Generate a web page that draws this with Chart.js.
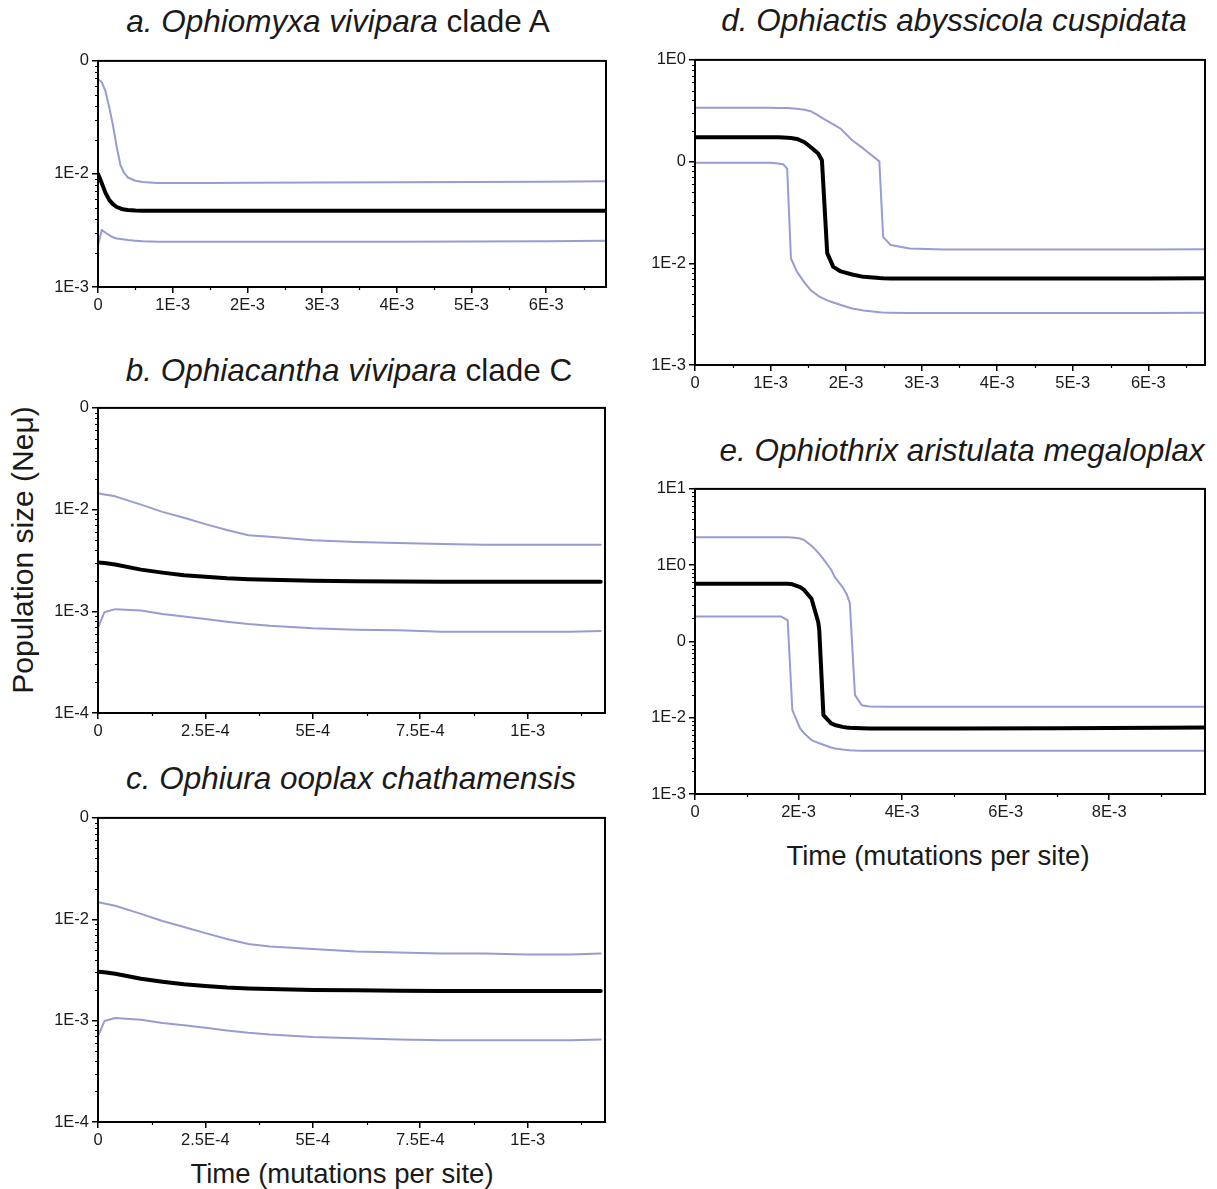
<!DOCTYPE html>
<html>
<head>
<meta charset="utf-8">
<script src="https://cdn.jsdelivr.net/npm/chart.js@4.4.1/dist/chart.umd.min.js"></script>
<style>
  body { margin: 0; background: #fff; width: 1217px; height: 1189px; position: relative; overflow: hidden;
         font-family: 'Liberation Sans', Arial, sans-serif; color: #1a1a1a; }
  .panel { position: absolute; }
  .title { position: absolute; font-size: 31.5px; line-height: 31.5px; white-space: nowrap; transform: translateX(-50%); }
  .xtitle { position: absolute; font-size: 27.5px; line-height: 27.5px; white-space: nowrap; transform: translateX(-50%); }
  .ytitle { position: absolute; font-size: 30px; line-height: 30px; white-space: nowrap; left: 23px; top: 550px;
            transform: translate(-50%, -50%) rotate(-90deg); }
</style>
</head>
<body>
<div class="title" style="left:338px; top:6px"><i>a. Ophiomyxa vivipara</i> clade A</div>
<div class="title" style="left:349px; top:355px"><i>b. Ophiacantha vivipara</i> clade C</div>
<div class="title" style="left:351px; top:763px"><i>c. Ophiura ooplax chathamensis</i></div>
<div class="title" style="left:954px; top:5px"><i>d. Ophiactis abyssicola cuspidata</i></div>
<div class="title" style="left:962px; top:435px"><i>e. Ophiothrix aristulata megaloplax</i></div>
<div class="xtitle" style="left:342px; top:1160px">Time (mutations per site)</div>
<div class="xtitle" style="left:938px; top:842px">Time (mutations per site)</div>
<div class="ytitle">Population size (Neμ)</div>

<div class="panel" id="boxA"><canvas id="chartA"></canvas></div>
<div class="panel" id="boxB"><canvas id="chartB"></canvas></div>
<div class="panel" id="boxC"><canvas id="chartC"></canvas></div>
<div class="panel" id="boxD"><canvas id="chartD"></canvas></div>
<div class="panel" id="boxE"><canvas id="chartE"></canvas></div>

<script>
// a. Ophiomyxa vivipara clade A
const timeA = [0, 0.00005, 0.0001, 0.00015, 0.0002, 0.00025, 0.0003, 0.00035, 0.0004, 0.0005,
  0.0006, 0.0008, 0.001, 0.0015, 0.002, 0.003, 0.004, 0.005, 0.006, 0.0068];
const upperA = [0.069, 0.065, 0.054, 0.039, 0.027, 0.0174, 0.0120, 0.0102, 0.0093, 0.0087,
  0.0085, 0.0083, 0.0083, 0.0083, 0.00835, 0.0084, 0.00845, 0.0085, 0.00855, 0.0086];
const medianA = [0.0100, 0.0083, 0.0068, 0.0059, 0.0054, 0.0051, 0.00495, 0.00484, 0.00479, 0.00474,
  0.00472, 0.00472, 0.00472, 0.00472, 0.00472, 0.00472, 0.00472, 0.00472, 0.00472, 0.00472];
const lowerA = [0.00234, 0.0032, 0.00302, 0.00288, 0.00275, 0.00269, 0.00266, 0.00263, 0.0026, 0.00257,
  0.00254, 0.00251, 0.00251, 0.00251, 0.00251, 0.00251, 0.00251, 0.00252, 0.00254, 0.00257];

// b. Ophiacantha vivipara clade C
const timeB = [0, 0.000015, 0.00004, 0.0001, 0.00015, 0.0002, 0.00025, 0.0003, 0.00035, 0.0004,
  0.0005, 0.0006, 0.0007, 0.0008, 0.0009, 0.001, 0.0011, 0.00117];
const upperB = [0.0145, 0.0141, 0.0135, 0.0112, 0.0095, 0.0083, 0.0072, 0.0063, 0.0056, 0.0054,
  0.0050, 0.0048, 0.0047, 0.0046, 0.0045, 0.0045, 0.0045, 0.0045];
const medianB = [0.00302, 0.00299, 0.00288, 0.00257, 0.0024, 0.00226, 0.00219, 0.00211, 0.00207, 0.00204,
  0.0020, 0.00197, 0.00196, 0.00195, 0.00195, 0.00195, 0.00195, 0.00195];
const lowerB = [0.00069, 0.00098, 0.00105, 0.00102, 0.00094, 0.00089, 0.00084, 0.00079, 0.00075, 0.00072,
  0.00068, 0.00066, 0.00065, 0.00063, 0.00063, 0.00063, 0.00063, 0.00064];

// c. Ophiura ooplax chathamensis
const timeC = [0, 0.000015, 0.00004, 0.0001, 0.00015, 0.0002, 0.00025, 0.0003, 0.00035, 0.0004,
  0.0005, 0.0006, 0.0007, 0.0008, 0.0009, 0.001, 0.0011, 0.00117];
const upperC = [0.0147, 0.0143, 0.0136, 0.0113, 0.0096, 0.0084, 0.0073, 0.0064, 0.0057, 0.0054,
  0.0051, 0.0048, 0.0047, 0.0046, 0.0046, 0.0045, 0.0045, 0.0046];
const medianC = [0.00304, 0.0030, 0.0029, 0.00259, 0.00242, 0.00228, 0.0022, 0.00212, 0.00208, 0.00205,
  0.00201, 0.00199, 0.00197, 0.00196, 0.00196, 0.00196, 0.00196, 0.00196];
const lowerC = [0.0007, 0.00099, 0.00106, 0.00102, 0.00095, 0.0009, 0.00085, 0.0008, 0.00076, 0.00073,
  0.00069, 0.00067, 0.00065, 0.00064, 0.00064, 0.00064, 0.00064, 0.00065];

// d. Ophiactis abyssicola cuspidata
const timeD = [0, 0.0005, 0.001, 0.0011, 0.00117, 0.00122, 0.00127, 0.00135, 0.00145, 0.00153,
  0.00163, 0.00168, 0.00175, 0.00183, 0.00193, 0.00208, 0.00223, 0.00244, 0.00249, 0.00259,
  0.00284, 0.0033, 0.004, 0.005, 0.006, 0.00675];
const upperD = [0.338, 0.338, 0.338, 0.337, 0.337, 0.336, 0.334, 0.331, 0.324, 0.313,
  0.285, 0.269, 0.251, 0.232, 0.210, 0.162, 0.134, 0.1005, 0.0182, 0.0151,
  0.0140, 0.01365, 0.01365, 0.01365, 0.01365, 0.01374];
const medianD = [0.174, 0.174, 0.174, 0.174, 0.173, 0.172, 0.171, 0.167, 0.155, 0.139,
  0.120, 0.103, 0.0126, 0.00923, 0.00832, 0.00776, 0.00736, 0.00716, 0.00713, 0.0071,
  0.00708, 0.00708, 0.00708, 0.00708, 0.00708, 0.00711];
const lowerD = [0.0977, 0.0977, 0.0973, 0.096, 0.094, 0.0851, 0.01114, 0.00824, 0.00646, 0.00545,
  0.00479, 0.00457, 0.00432, 0.00412, 0.00389, 0.00359, 0.00343, 0.00331, 0.00329, 0.00327,
  0.00325, 0.00324, 0.00324, 0.00324, 0.00325, 0.00327];

// e. Ophiothrix aristulata megaloplax
const timeE = [0, 0.001, 0.00166, 0.00179, 0.00188, 0.00203, 0.0021, 0.00225, 0.00238, 0.0024,
  0.00248, 0.00263, 0.0027, 0.00285, 0.00293, 0.00299, 0.00309, 0.00322, 0.00337, 0.00375,
  0.005, 0.007, 0.009, 0.00985];
const upperE = [2.33, 2.33, 2.33, 2.32, 2.31, 2.24, 2.15, 1.80, 1.46, 1.41,
  1.20, 0.871, 0.698, 0.516, 0.417, 0.319, 0.0198, 0.01462, 0.01406, 0.0139,
  0.0139, 0.0139, 0.0139, 0.0139];
const medianE = [0.571, 0.571, 0.571, 0.569, 0.562, 0.516, 0.479, 0.363, 0.180, 0.141,
  0.0108, 0.00841, 0.00804, 0.00759, 0.00745, 0.00738, 0.00733, 0.00728, 0.00724, 0.00724,
  0.00724, 0.00728, 0.00738, 0.00745];
const lowerE = [0.213, 0.213, 0.213, 0.189, 0.0126, 0.00724, 0.00631, 0.00509, 0.00468, 0.00462,
  0.00442, 0.00407, 0.00396, 0.00382, 0.00378, 0.00375, 0.00372, 0.0037, 0.00369, 0.00368,
  0.00368, 0.00369, 0.0037, 0.0037];

// tick values and their printed labels (labels as printed on the figure)
const xTicks7 = [0, 0.001, 0.002, 0.003, 0.004, 0.005, 0.006];
const xLabels7 = ['0', '1E-3', '2E-3', '3E-3', '4E-3', '5E-3', '6E-3'];
const xTicksSmall = [0, 0.00025, 0.0005, 0.00075, 0.001];
const xLabelsSmall = ['0', '2.5E-4', '5E-4', '7.5E-4', '1E-3'];
const xTicksE = [0, 0.002, 0.004, 0.006, 0.008];
const xLabelsE = ['0', '2E-3', '4E-3', '6E-3', '8E-3'];

const yTicksA = [0.1, 0.01, 0.001];
const yLabelsA = ['0', '1E-2', '1E-3'];
const yTicksBC = [0.1, 0.01, 0.001, 0.0001];
const yLabelsBC = ['0', '1E-2', '1E-3', '1E-4'];
const yTicksD = [1, 0.1, 0.01, 0.001];
const yLabelsD = ['1E0', '0', '1E-2', '1E-3'];
const yTicksE = [10, 1, 0.1, 0.01, 0.001];
const yLabelsE = ['1E1', '1E0', '0', '1E-2', '1E-3'];

const FONT = "'Liberation Sans', Arial, sans-serif";
const BLUE = 'rgb(152, 156, 210)';
const LEFT = 62, TOP = 12, RIGHT = 14, BOTTOM = 42;

// frame around plot area + small minor ticks on both axes
const framePlugin = {
  id: 'frame',
  afterDraw(chart) {
    const { ctx, chartArea: a, scales } = chart;
    const minorStep = chart.options.plugins.frame.minorStep;
    const majors = chart.options.plugins.frame.majors;
    ctx.save();
    ctx.strokeStyle = '#000';
    ctx.lineWidth = 1.2;
    ctx.beginPath();
    // log minor ticks on y
    const y = scales.y;
    for (let e = -5; e <= 1; e++) {
      for (let k = 2; k <= 9; k++) {
        const v = k * Math.pow(10, e);
        if (v <= y.min || v >= y.max) continue;
        const py = Math.round(y.getPixelForValue(v)) + 0.5;
        ctx.moveTo(a.left - 3, py);
        ctx.lineTo(a.left, py);
      }
    }
    // minor ticks on x
    const x = scales.x;
    for (let i = 1; i * minorStep < x.max; i++) {
      const v = i * minorStep;
      if (majors.some(m => Math.abs(m - v) < minorStep / 10)) continue;
      const px = Math.round(x.getPixelForValue(v)) + 0.5;
      ctx.moveTo(px, a.bottom);
      ctx.lineTo(px, a.bottom + 3);
    }
    ctx.stroke();
    ctx.lineWidth = 2;
    ctx.strokeRect(a.left, a.top, a.right - a.left, a.bottom - a.top);
    ctx.restore();
  }
};

function makePanel(id, box, time, upper, median, lower, xTicks, xLabels, xMax, minorStep, yTicks, yLabels) {
  const holder = document.getElementById('box' + id);
  holder.style.left = (box.l - LEFT) + 'px';
  holder.style.top = (box.t - TOP) + 'px';
  holder.style.width = (box.r - box.l + LEFT + RIGHT) + 'px';
  holder.style.height = (box.b - box.t + TOP + BOTTOM) + 'px';

  const pts = arr => time.map((t, i) => ({ x: t, y: arr[i] }));
  const line = (arr, color, width) => ({
    data: pts(arr),
    borderColor: color,
    borderWidth: width,
    pointRadius: 0,
    fill: false,
    tension: 0,
    borderJoinStyle: 'round',
    borderCapStyle: 'round'
  });

  new Chart(document.getElementById('chart' + id), {
    type: 'line',
    data: {
      datasets: [
        line(median, '#000', 4),
        line(upper, BLUE, 2),
        line(lower, BLUE, 2)
      ]
    },
    options: {
      responsive: true,
      maintainAspectRatio: false,
      animation: false,
      layout: { padding: { top: TOP, right: RIGHT, left: 0, bottom: 0 } },
      plugins: {
        legend: { display: false },
        tooltip: { enabled: false },
        frame: { minorStep: minorStep, majors: xTicks }
      },
      scales: {
        x: {
          type: 'linear',
          min: 0,
          max: xMax,
          afterBuildTicks: s => { s.ticks = xTicks.map(v => ({ value: v })); },
          afterFit: s => { s.height = BOTTOM; },
          ticks: {
            callback: (v, i) => xLabels[i],
            color: '#1a1a1a',
            font: { family: FONT, size: 16.5 },
            padding: 3,
            maxRotation: 0,
            autoSkip: false
          },
          grid: { drawOnChartArea: false, drawTicks: true, tickLength: 6, color: '#000', lineWidth: 1.5 },
          border: { display: true, color: '#000', width: 2 }
        },
        y: {
          type: 'logarithmic',
          min: yTicks[yTicks.length - 1],
          max: yTicks[0],
          afterBuildTicks: s => { s.ticks = yTicks.map(v => ({ value: v })); },
          afterFit: s => { s.width = LEFT; },
          ticks: {
            callback: (v, i) => yLabels[i],
            color: '#1a1a1a',
            font: { family: FONT, size: 16.5 },
            padding: 3,
            autoSkip: false
          },
          grid: { drawOnChartArea: false, drawTicks: true, tickLength: 6, color: '#000', lineWidth: 1.5 },
          border: { display: true, color: '#000', width: 2 }
        }
      }
    },
    plugins: [framePlugin]
  });
}

makePanel('A', { l: 98, r: 606, t: 60, b: 287 }, timeA, upperA, medianA, lowerA,
  xTicks7, xLabels7, 0.0068, 0.0005, yTicksA, yLabelsA);
makePanel('B', { l: 98, r: 605, t: 407, b: 713 }, timeB, upperB, medianB, lowerB,
  xTicksSmall, xLabelsSmall, 0.00118, 0.000125, yTicksBC, yLabelsBC);
makePanel('C', { l: 98, r: 605, t: 817, b: 1122 }, timeC, upperC, medianC, lowerC,
  xTicksSmall, xLabelsSmall, 0.00118, 0.000125, yTicksBC, yLabelsBC);
makePanel('D', { l: 695, r: 1205, t: 59, b: 365 }, timeD, upperD, medianD, lowerD,
  xTicks7, xLabels7, 0.00675, 0.0005, yTicksD, yLabelsD);
makePanel('E', { l: 695, r: 1205, t: 488, b: 794 }, timeE, upperE, medianE, lowerE,
  xTicksE, xLabelsE, 0.00985, 0.001, yTicksE, yLabelsE);
</script>
</body>
</html>
